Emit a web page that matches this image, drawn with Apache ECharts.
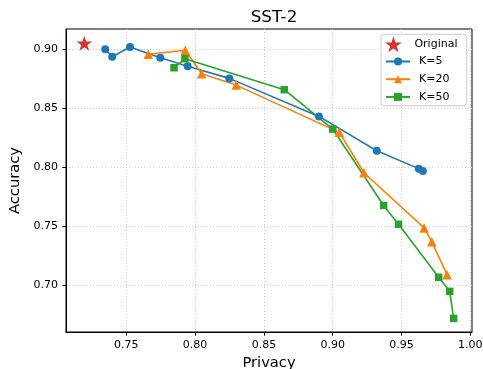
<!DOCTYPE html>
<html><head><meta charset="utf-8">
<script src="https://cdn.jsdelivr.net/npm/echarts@6/dist/echarts.min.js"></script>
<style>html,body{margin:0;padding:0;background:#fff}#c{width:483px;height:369px}</style>
</head><body><div id="c"></div>
<script>
const xTicks = [0.75, 0.80, 0.85, 0.90, 0.95, 1.00];
const yTicks = [0.70, 0.75, 0.80, 0.85, 0.90];
const originalPrivacy = [0.7195];
const originalAccuracy = [0.9051];
const k5Privacy = [0.7347, 0.7398, 0.7527, 0.7747, 0.7946, 0.8249, 0.8900, 0.9320, 0.9625, 0.9655];
const k5Accuracy = [0.9000, 0.8937, 0.9020, 0.8929, 0.8856, 0.8754, 0.8432, 0.8141, 0.7990, 0.7970];
const k20Privacy = [0.7660, 0.7929, 0.8048, 0.8299, 0.9048, 0.9227, 0.9664, 0.9720, 0.9831];
const k20Accuracy = [0.8958, 0.8992, 0.8793, 0.8697, 0.8297, 0.7955, 0.7488, 0.7370, 0.7092];
const k50Privacy = [0.7847, 0.7926, 0.8648, 0.9000, 0.9370, 0.9478, 0.9770, 0.9850, 0.9879];
const k50Accuracy = [0.8844, 0.8920, 0.8658, 0.8325, 0.7678, 0.7519, 0.7070, 0.6951, 0.6722];

const zip = (a, b) => a.map((v, i) => [v, b[i]]);
const star = 'path://M100,0 L122.45,69.1 L195.11,69.1 L136.33,111.8 L158.78,180.9 L100,138.2 L41.22,180.9 L63.67,111.8 L4.89,69.1 L77.55,69.1 Z';
const font = 'DejaVu Sans';
const chart = echarts.init(document.getElementById('c'));
function lineSeries(name, color, symbol, size, data) {
  return {
    name, type: 'line', data, symbol, symbolSize: size,
    lineStyle: {color, width: 1.6},
    itemStyle: {color},
    emphasis: {disabled: true},
    animation: false, z: 3
  };
}
const legendText = {fontFamily: font, fontSize: 11, color: '#000', padding: [0, 0, 0, 4]};
chart.setOption({
  animation: false,
  title: {text: 'SST-2', left: 269, top: 4, textAlign: 'center',
    textStyle: {fontFamily: font, fontSize: 16.7, fontWeight: 'normal', color: '#000'}},
  grid: {left: 66, right: 11, top: 29, bottom: 37, containLabel: false, outerBoundsMode: 'none',
    show: true, borderColor: '#000', borderWidth: 1, backgroundColor: 'transparent'},
  graphic: [{type: 'rect', z: 10, shape: {x: 381, y: 34.3, width: 85.7, height: 71.4, r: 3},
    style: {fill: '#fff', stroke: '#cccccc', lineWidth: 1}}],
  legend: [{
    orient: 'vertical', left: 385, top: 36.3, itemWidth: 24, itemHeight: 16, padding: 0, z: 11,
    textStyle: legendText, data: ['Original']
  }, {
    orient: 'vertical', left: 385, top: 56, itemWidth: 24, itemHeight: 10, itemGap: 6.7, padding: 0, z: 11,
    textStyle: legendText, data: ['K=5', 'K=20', 'K=50']
  }],
  xAxis: {
    type: 'value', min: 0.7062, max: 1.0012,
    name: 'Privacy', nameLocation: 'middle', nameGap: 20,
    nameTextStyle: {fontFamily: font, fontSize: 14.7, color: '#000'},
    axisLine: {show: true, lineStyle: {color: '#000', width: 1}},
    axisTick: {show: true, length: 3.7, lineStyle: {color: '#000'}, customValues: xTicks},
    axisLabel: {fontFamily: font, fontSize: 11, color: '#000', margin: 8, customValues: xTicks, formatter: v => v.toFixed(2)},
    splitLine: {show: true, lineStyle: {color: '#d0d0d0', type: [1, 2], width: 1}}
  },
  yAxis: {
    type: 'value', min: 0.6607, max: 0.9172,
    name: 'Accuracy', nameLocation: 'middle', nameGap: 37, nameRotate: 90,
    nameTextStyle: {fontFamily: font, fontSize: 14.7, color: '#000'},
    axisLine: {show: true, lineStyle: {color: '#000', width: 1}},
    axisTick: {show: true, length: 3.7, lineStyle: {color: '#000'}, customValues: yTicks},
    axisLabel: {fontFamily: font, fontSize: 11, color: '#000', margin: 8, customValues: yTicks, formatter: v => v.toFixed(2)},
    splitLine: {show: true, lineStyle: {color: '#d0d0d0', type: [1, 2], width: 1}}
  },
  series: [
    {name: 'Original', type: 'scatter', data: zip(originalPrivacy, originalAccuracy), symbol: star,
      symbolSize: [16, 15], itemStyle: {color: '#cc0000'}, z: 4},
    lineSeries('K=5', '#1f77b4', 'circle', 8, zip(k5Privacy, k5Accuracy)),
    lineSeries('K=20', '#ff7f0e', 'triangle', 9.5, zip(k20Privacy, k20Accuracy)),
    lineSeries('K=50', '#2ca02c', 'rect', 7.5, zip(k50Privacy, k50Accuracy))
  ]
});
</script></body></html>
